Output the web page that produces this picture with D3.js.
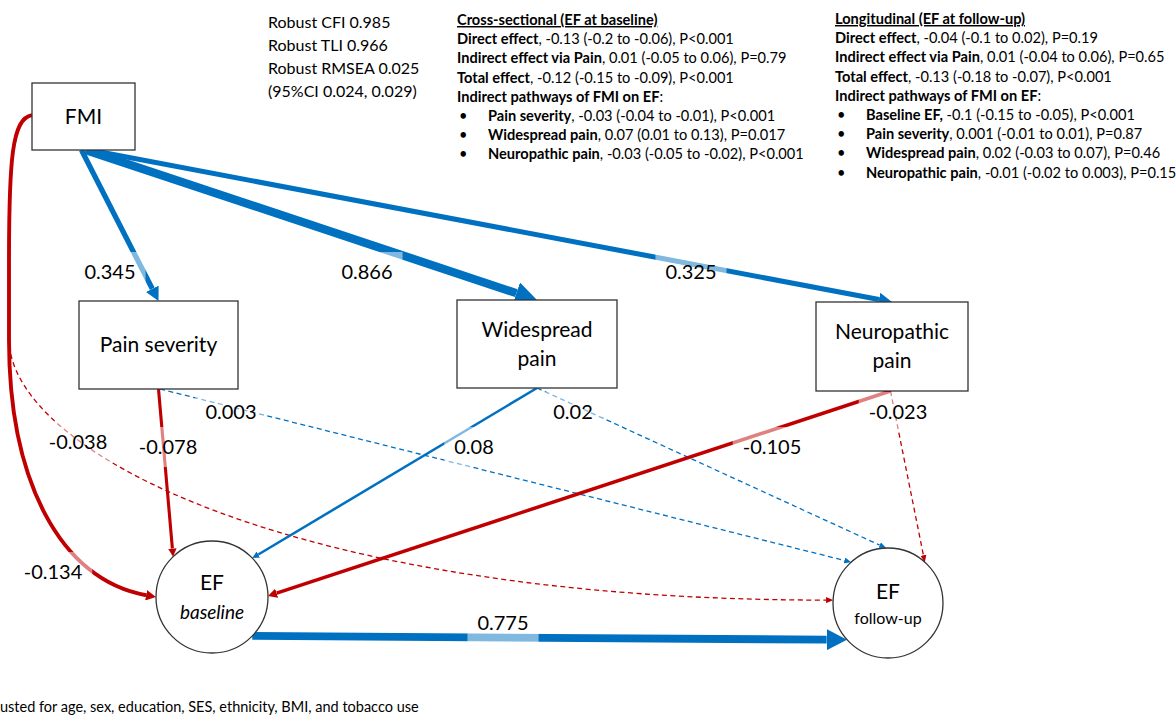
<!DOCTYPE html>
<html>
<head>
<meta charset="utf-8">
<style>
  body { margin: 0; background: #fff; }
  svg { display: block; font-family: Lato, 'Open Sans', sans-serif; }
  rect.node, circle.node { fill: #fff; stroke: #333; stroke-width: 1.3px; }
  text.nlabel { font-size: 21px; fill: #000; text-anchor: middle; }
  text.coef { font-size: 20px; fill: #000; text-anchor: middle; }
  text.info { font-size: 14.6px; fill: #000; }
  text.stat { font-size: 16px; fill: #000; }
  text.foot { font-size: 14.5px; fill: #000; }
</style>
</head>
<body>
<script src="https://cdn.jsdelivr.net/npm/d3@7"></script>
<script>
// ---- data ----
var nodeIds = ['FMI', 'PS', 'WP', 'NP', 'EFb', 'EFf'];
var nodeLabels = [['FMI'], ['Pain severity'], ['Widespread', 'pain'],
                  ['Neuropathic', 'pain'], ['EF', 'baseline'], ['EF', 'follow-up']];

var edgeFrom = ['FMI', 'FMI', 'FMI', 'FMI', 'FMI', 'PS', 'PS', 'WP', 'WP', 'NP', 'NP', 'EFb'];
var edgeTo   = ['PS', 'WP', 'NP', 'EFb', 'EFf', 'EFb', 'EFf', 'EFb', 'EFf', 'EFb', 'EFf', 'EFf'];
var coefs    = [0.345, 0.866, 0.325, -0.134, -0.038, -0.078, 0.003, 0.08, 0.02, -0.105, -0.023, 0.775];
var significant = [1, 1, 1, 1, 0, 1, 0, 1, 0, 1, 0, 1];

var fitStats = ['Robust CFI 0.985', 'Robust TLI 0.966', 'Robust RMSEA 0.025', '(95%CI 0.024, 0.029)'];

var crossTitle = 'Cross-sectional (EF at baseline)';
var crossRows = [
  ['Direct effect', ', -0.13 (-0.2 to -0.06), P<0.001', 0],
  ['Indirect effect via Pain', ', 0.01 (-0.05 to 0.06), P=0.79', 0],
  ['Total effect', ', -0.12 (-0.15 to -0.09), P<0.001', 0],
  ['Indirect pathways of FMI on EF', ':', 0],
  ['Pain severity', ', -0.03 (-0.04 to -0.01), P<0.001', 1],
  ['Widespread pain', ', 0.07 (0.01 to 0.13), P=0.017', 1],
  ['Neuropathic pain', ', -0.03 (-0.05 to -0.02), P<0.001', 1]
];
var longTitle = 'Longitudinal (EF at follow-up)';
var longRows = [
  ['Direct effect', ', -0.04 (-0.1 to 0.02), P=0.19', 0],
  ['Indirect effect via Pain', ', 0.01 (-0.04 to 0.06), P=0.65', 0],
  ['Total effect', ', -0.13 (-0.18 to -0.07), P<0.001', 0],
  ['Indirect pathways of FMI on EF', ':', 0],
  ['Baseline EF,', ' -0.1 (-0.15 to -0.05), P<0.001', 1],
  ['Pain severity', ', 0.001 (-0.01 to 0.01), P=0.87', 1],
  ['Widespread pain', ', 0.02 (-0.03 to 0.07), P=0.46', 1],
  ['Neuropathic pain', ', -0.01 (-0.02 to 0.003), P=0.15', 1]
];
var footnote = 'Adjusted for age, sex, education, SES, ethnicity, BMI, and tobacco use';

// ---- layout ----
var nodeGeom = {
  FMI: {shape: 'rect', x: 32, y: 83, w: 103, h: 67},
  PS:  {shape: 'rect', x: 79, y: 301, w: 159, h: 88},
  WP:  {shape: 'rect', x: 457, y: 300, w: 160, h: 88},
  NP:  {shape: 'rect', x: 816, y: 302, w: 152, h: 89},
  EFb: {shape: 'circle', cx: 212, cy: 597, r: 56},
  EFf: {shape: 'circle', cx: 888, cy: 603, r: 55}
};
// port: [fx, fy] on a rect, angle in degrees on a circle
var fromPort = [[0.48, 1], [0.52, 1], [0.56, 1], [0, 0.48], [0, 0.48], [0.5, 1],
                [0.51, 1], [0.5, 1], [0.5, 1], [0.49, 1], [0.49, 1], 44];
var toPort = [[0.5, 0], [0.5, 0], [0.5, 0], 180, 183, 226, 228, 316, 268, -1, 312, 138];
// curved routes down the left side (second bezier controls)
var bend = {3: [[9, 480], [60, 580]], 4: [[12, 455], [300, 600]]};
var labelPos = [[110, 272], [367, 272], [691, 272], [53, 572], [78, 442], [168, 447],
                [231, 412], [474, 447], [573, 412], [772, 447], [898, 412], [503, 623]];

var W = 1176, H = 715;
var svg = d3.select('body').append('svg').attr('width', W).attr('height', H);
var defs = svg.append('defs');

var wScale = d3.scaleSqrt().domain([0, 0.9]).range([0, 8.5]);
var colour = d3.scaleThreshold().domain([0]).range(['#c00000', '#0070c0']);

function portPoint(id, port) {
  var g = nodeGeom[id];
  if (g.shape === 'rect') return [g.x + port[0] * g.w, g.y + port[1] * g.h];
  var a = port * Math.PI / 180;
  return [g.cx + g.r * Math.cos(a), g.cy + g.r * Math.sin(a)];
}

var gEdges = svg.append('g');
coefs.forEach(function(c, i) {
  var sw = significant[i] ? Math.max(1.3, wScale(Math.abs(c))) : 1.3;
  if (significant[i] && c < 0) sw += 0.6;
  var col = colour(c);
  var L = Math.max(7, 2.6 * sw), Hh = Math.max(6, 2.7 * sw);
  defs.append('marker')
      .attr('id', 'arr' + i)
      .attr('markerUnits', 'userSpaceOnUse')
      .attr('markerWidth', L).attr('markerHeight', Hh)
      .attr('refX', 0).attr('refY', Hh / 2)
      .attr('orient', 'auto')
      .attr('viewBox', '0 0 ' + L + ' ' + Hh)
      .append('path')
      .attr('d', 'M0,0L' + L + ',' + (Hh / 2) + 'L0,' + Hh + 'Z')
      .attr('fill', col);

  var s = portPoint(edgeFrom[i], fromPort[i]);
  var t = portPoint(edgeTo[i], toPort[i]);
  var p = d3.path();
  p.moveTo(s[0], s[1]);
  var prev;
  if (bend[i]) {
    p.bezierCurveTo(s[0] - 20, s[1] + 3, 9, s[1] + 45, 9, s[1] + 145);
    p.lineTo(9, 340);
    prev = bend[i][1];
  } else {
    prev = s;
  }
  var dx = t[0] - prev[0], dy = t[1] - prev[1], d = Math.sqrt(dx * dx + dy * dy);
  var e = [t[0] - dx / d * L, t[1] - dy / d * L];
  if (bend[i]) p.bezierCurveTo(bend[i][0][0], bend[i][0][1], prev[0], prev[1], e[0], e[1]);
  else p.lineTo(e[0], e[1]);

  gEdges.append('path')
        .attr('d', p.toString())
        .attr('fill', 'none')
        .attr('stroke', col)
        .attr('stroke-width', sw)
        .attr('stroke-dasharray', significant[i] ? null : '5,3.5')
        .attr('marker-end', 'url(#arr' + i + ')');
});

// nodes
var gNodes = svg.append('g');
nodeIds.forEach(function(id, i) {
  var g = nodeGeom[id], cx, cy;
  if (g.shape === 'rect') {
    gNodes.append('rect').attr('class', 'node')
          .attr('x', g.x).attr('y', g.y).attr('width', g.w).attr('height', g.h);
    cx = g.x + g.w / 2; cy = g.y + g.h / 2;
  } else {
    gNodes.append('circle').attr('class', 'node')
          .attr('cx', g.cx).attr('cy', g.cy).attr('r', g.r);
    cx = g.cx; cy = g.cy;
  }
  var lines = nodeLabels[i];
  lines.forEach(function(txt, k) {
    var t = gNodes.append('text').attr('class', 'nlabel')
        .attr('x', cx)
        .attr('y', cy + 7 + (k - (lines.length - 1) / 2) * 29)
        .text(txt);
    if (id === 'EFb' && k === 1) t.style('font-style', 'italic').style('font-size', '19px');
    if (id === 'EFf' && k === 1) t.style('font-size', '16px').attr('y', cy + 21);
    if (id === 'EFf' && k === 0) t.attr('y', cy - 4);
  });
});

// coefficient labels with a half-white panel that lightens the path under them
var gLab = svg.append('g');
coefs.forEach(function(c, i) {
  var t = gLab.append('text').attr('class', 'coef')
      .attr('x', labelPos[i][0]).attr('y', labelPos[i][1] + 7)
      .text(String(c));
  var tw = t.node().getComputedTextLength();
  gLab.insert('rect', 'text')
      .attr('x', labelPos[i][0] - tw / 2 - 10).attr('y', labelPos[i][1] - 20)
      .attr('width', tw + 20).attr('height', 40)
      .attr('fill', '#fff').attr('fill-opacity', 0.5);
});

// fit statistics
svg.selectAll('text.stat').data(fitStats).enter()
   .append('text').attr('class', 'stat')
   .attr('x', 268).attr('y', (d, i) => 28 + i * 23)
   .text(d => d);

function block(x, y0, title, rows) {
  var g = svg.append('g');
  g.append('text').attr('class', 'info').attr('x', x).attr('y', y0)
   .style('font-weight', 'bold').style('text-decoration', 'underline')
   .text(title);
  rows.forEach(function(r, i) {
    var y = y0 + (i + 1) * 19.2;
    if (r[2]) g.append('text').attr('class', 'info').attr('x', x + 2).attr('y', y).text('\u2022');
    var t = g.append('text').attr('class', 'info').attr('x', r[2] ? x + 31 : x).attr('y', y);
    t.append('tspan').style('font-weight', 'bold').text(r[0]);
    t.append('tspan').text(r[1]);
  });
}
block(457, 25, crossTitle, crossRows);
block(835, 24, longTitle, longRows);

// the reference shows this note cut off at the left edge
var ft = svg.append('text').attr('class', 'foot').attr('y', 712).text(footnote);
var adj = svg.append('text').attr('class', 'foot').text('Adj');
var aw = adj.node().getComputedTextLength();
adj.remove();
ft.attr('x', -aw);
</script>
</body>
</html>
